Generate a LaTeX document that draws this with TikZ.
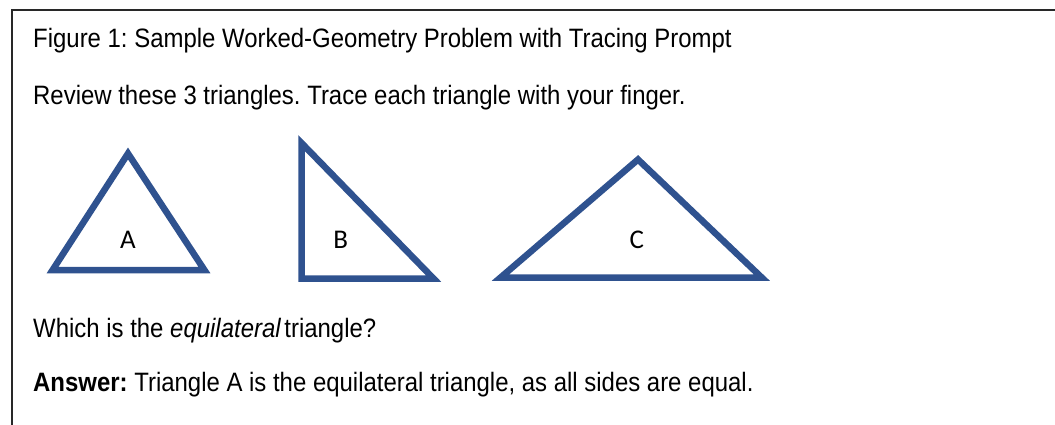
\documentclass[tikz,border=0pt]{standalone}
\usepackage{fontspec}
\setmainfont{Liberation Sans}[FakeStretch=0.9]
\newfontfamily\labelfont{Carlito}
\definecolor{triblue}{RGB}{47,82,143}
\definecolor{framegray}{RGB}{40,40,40}
\frenchspacing
\begin{document}
\begin{tikzpicture}[x=1pt,y=-1pt,
  txt/.style={anchor=base west,inner sep=0pt,font=\fontsize{26.6}{30}\selectfont,text=black},
  tri/.style={draw=triblue,line width=6.5pt,miter limit=20},
  lbl/.style={inner sep=0pt,font=\labelfont\fontsize{27}{31}\selectfont,text=black},
  frame/.style={draw=framegray,line width=1.2pt}]
\useasboundingbox (0,0) rectangle (1055,425);
% frame (open at right and bottom)
\coordinate (fbl) at (12,425);
\coordinate (ftl) at (12,10);
\coordinate (ftr) at (1055,10);
\draw[frame] (fbl) -- (ftl) -- (ftr);
% texts
\node[txt] (title) at (33,48) {Figure 1: Sample Worked-Geometry Problem with Tracing Prompt};
\node[txt] (review) at (33,105) {Review these 3 triangles. Trace each triangle with your finger.};
\node[txt] (question) at (33,337) {Which is the \textit{equilateral}\hspace{0.12em}triangle?};
\node[txt] (answer) at (33,391) {\textbf{Answer:} Triangle A is the equilateral triangle, as all sides are equal.};
% triangle A
\coordinate (a1) at (128,153.5);
\coordinate (a2) at (52.6,270);
\coordinate (a3) at (204.4,270);
\draw[tri] (a1) -- (a2) -- (a3) -- cycle;
\node[lbl] (la) at (128,240) {A};
% triangle B
\coordinate (b1) at (301.5,143);
\coordinate (b2) at (301.5,278.5);
\coordinate (b3) at (433.5,278.5);
\draw[tri] (b1) -- (b2) -- (b3) -- cycle;
\node[lbl] (lb) at (340.7,240) {B};
% triangle C
\coordinate (c1) at (638,159.5);
\coordinate (c2) at (500.6,277.5);
\coordinate (c3) at (761.7,277.5);
\draw[tri] (c1) -- (c2) -- (c3) -- cycle;
\node[lbl] (lc) at (636.7,240) {C};
\end{tikzpicture}
\end{document}
